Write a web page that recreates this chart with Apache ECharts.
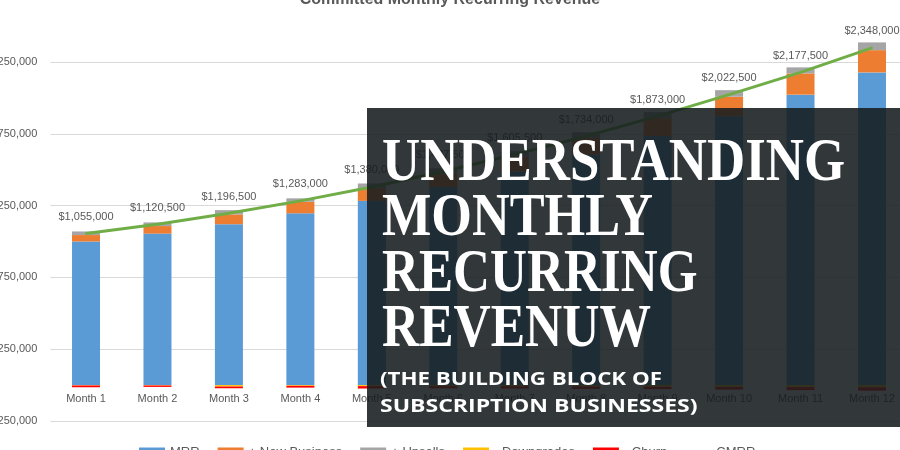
<!DOCTYPE html>
<html>
<head>
<meta charset="utf-8">
<script src="https://cdn.jsdelivr.net/npm/echarts@6/dist/echarts.min.js"></script>
<style>
html,body{margin:0;padding:0;background:#fff;}
#chart{width:900px;height:450px;}
</style>
</head>
<body>
<div id="chart"></div>
<script>
// ---- data ----
const chartTitle = 'Committed Monthly Recurring Revenue';
const months = ['Month 1','Month 2','Month 3','Month 4','Month 5','Month 6','Month 7','Month 8','Month 9','Month 10','Month 11','Month 12'];
const seriesNames = ['MRR','+ New Business','+ Upsells','- Downgrades','- Churn','CMRR'];
const mrr = [1000000,1055000,1120500,1196500,1283000,1380000,1487500,1605500,1734000,1873000,2022500,2177500];
const newBusiness = [45000,52500,68000,80000,88000,95000,105000,115000,125000,135000,148000,155000];
const upsells = [25000,25500,30000,24000,33000,35000,37000,40000,42000,46000,42000,54000];
const downgrades = [-2500,-2500,-10000,-5000,-7000,-8000,-9000,-10000,-11000,-12000,-14000,-15000];
const churn = [-12500,-10000,-12000,-12500,-17000,-14500,-15000,-16500,-17000,-19500,-21000,-23500];
const cmrr = [1055000,1120500,1196500,1283000,1380000,1487500,1605500,1734000,1873000,2022500,2177500,2348000];
const yMin = -250000, yMax = 2750000, yStep = 500000;
const bannerTitle = ['UNDERSTANDING','MONTHLY','RECURRING','REVENUW'];
const bannerSub = ['(THE BUILDING BLOCK OF','SUBSCRIPTION BUSINESSES)'];

// ---- helpers ----
const colors = ['#5b9bd5','#ed7d31','#a5a5a5','#ffc000','#ff0000','#70ad47'];
const fmt = v => (v < 0 ? '-$' : '$') + Math.abs(v).toLocaleString('en-US');
const mctx = document.createElement('canvas').getContext('2d');
function fitScale(text, font, target){ mctx.font = font; return target / mctx.measureText(text).width; }

const titleFont = 'bold 62px "Liberation Serif"';
const titleTargets = [463, 271, 315.5, 269];
const titleY = [163.6, 219.4, 274.6, 329.6];
const subFont = 'bold 17px "Open Sans"';
const subTargets = [282, 317.5];
const subY = [380.2, 407.2];

const graphics = [{
  type:'rect', z:100, shape:{x:367, y:108, width:533, height:319},
  style:{fill:'rgba(22,28,31,0.88)'}
}];
bannerTitle.forEach((t,i)=>{
  graphics.push({type:'text', z:101, x:382, y:titleY[i], scaleX: fitScale(t,titleFont,titleTargets[i]),
    style:{text:t, font:titleFont, fill:'#ffffff', align:'left', verticalAlign:'middle'}});
});
bannerSub.forEach((t,i)=>{
  graphics.push({type:'text', z:101, x:380, y:subY[i], scaleX: fitScale(t,subFont,subTargets[i]),
    style:{text:t, font:subFont, fill:'#ffffff', align:'left', verticalAlign:'middle'}});
});

const barSeries = [mrr,newBusiness,upsells,downgrades,churn].map((d,i)=>({
  name: seriesNames[i], type:'bar', stack:'total', data:d, barWidth:28,
  itemStyle:{color:colors[i]}
}));

// zero line position inside the grid (grid bottom sits at yMin)
const gridTop = -9.8, gridBottom = 29;
const plotH = 450 - gridTop - gridBottom;
const zeroOffset = -plotH * (0 - yMin) / (yMax - yMin);

const chart = echarts.init(document.getElementById('chart'), null, {renderer:'canvas'});
chart.setOption({
  animation:false,
  textStyle:{fontFamily:'"Liberation Sans", Arial, sans-serif'},
  title:{text:chartTitle, left:'center', top:-13,
    textStyle:{fontSize:16, fontWeight:'bold', color:'#595959', fontFamily:'"Liberation Sans", Arial, sans-serif'}},
  legend:{
    left:134, top:441, itemWidth:26, itemHeight:10, itemGap:18,
    textStyle:{fontSize:13, color:'#595959'},
    data:[
      {name:seriesNames[0], icon:'rect'},
      {name:seriesNames[1], icon:'rect'},
      {name:seriesNames[2], icon:'rect'},
      {name:seriesNames[3], icon:'rect'},
      {name:seriesNames[4], icon:'rect'},
      {name:seriesNames[5], icon:'path://M0,0 L0,0 M0,3.5 L26,3.5 L26,6.5 L0,6.5 Z M0,10 L0,10'}
    ]
  },
  grid:{left:50.3, right:-7.7, top:gridTop, bottom:gridBottom, containLabel:false, outerBoundsMode:'none'},
  xAxis:{
    type:'category', data:months, offset: zeroOffset,
    axisLine:{show:false, onZero:false}, axisTick:{show:false},
    axisLabel:{color:'#595959', fontSize:11, margin:8}
  },
  yAxis:{
    type:'value', min:yMin, max:yMax, interval:yStep,
    axisLine:{show:false}, axisTick:{show:false},
    splitLine:{lineStyle:{color:'#d9d9d9', width:1}},
    axisLabel:{color:'#595959', fontSize:11, margin:13, formatter:fmt}
  },
  series: barSeries.concat([{
    name: seriesNames[5], type:'line', data:cmrr, z:5,
    symbol:'circle', symbolSize:2, showSymbol:true,
    lineStyle:{color:colors[5], width:3},
    itemStyle:{color:colors[5]},
    label:{show:true, position:'top', distance:10, color:'#595959', fontSize:11, formatter:p=>fmt(p.value)}
  }]),
  graphic: graphics
});
</script>
</body>
</html>
